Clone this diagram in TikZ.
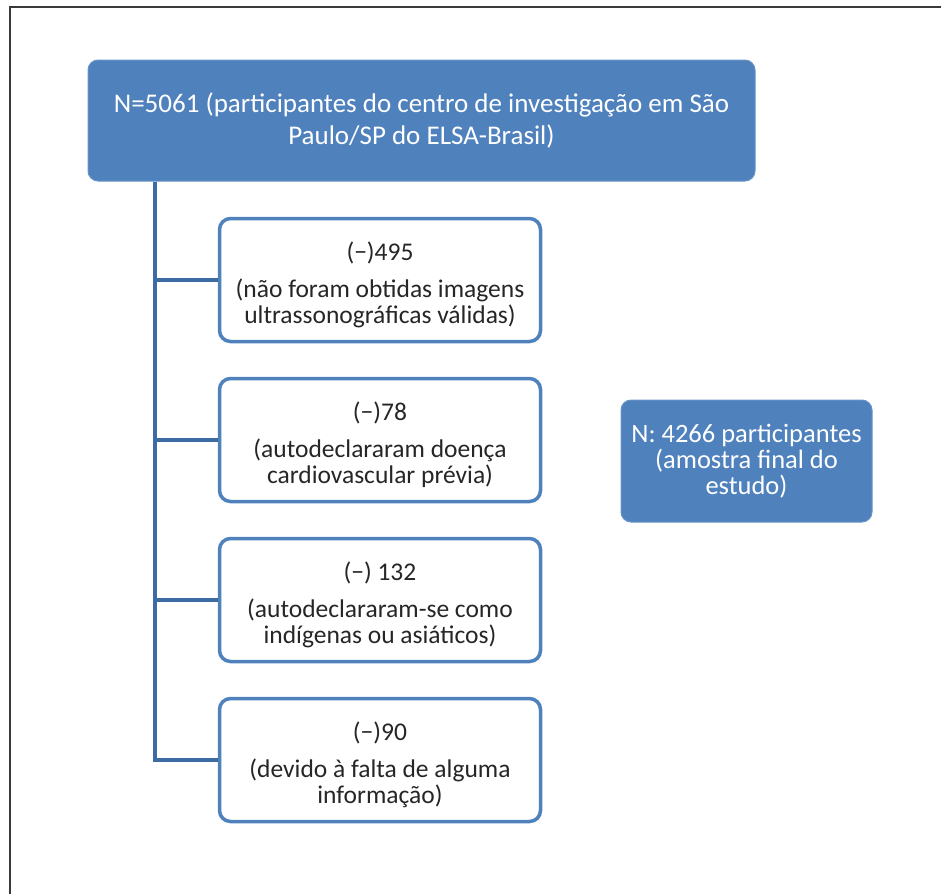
\documentclass[tikz,border=0pt]{standalone}
\usepackage{fontspec}
\setmainfont{Carlito}
\definecolor{boxblue}{HTML}{4F81BD}
\definecolor{lineblue}{HTML}{3D6BA3}
\definecolor{txt}{HTML}{262626}
\definecolor{framec}{HTML}{3A3A3A}
\newcommand{\toppad}{\rule{0pt}{28pt}}
\tikzset{
  bluebox/.style={draw=boxblue!85!white, line width=1pt, fill=boxblue, rounded corners=10pt, text=white, align=center, inner sep=0pt},
  whitebox/.style={draw=boxblue, line width=3.5pt, fill=white, rounded corners=11pt, text=txt, align=center, inner sep=0pt, minimum width=321pt, minimum height=123pt},
  conn/.style={draw=lineblue, line width=4pt},
  boxfont/.style={font=\fontsize{25.5}{26.5}\selectfont},
}
\begin{document}
\begin{tikzpicture}[x=1pt,y=-1pt]
\useasboundingbox (0,0) rectangle (941,894);
\draw[framec, line width=2pt] (10,894) -- (10,7) -- (941,7);
\node[bluebox, minimum width=667pt, minimum height=121pt, font=\fontsize{27}{32}\selectfont] (top) at (421.5,120.5)
  {N=5061 (participantes do centro de investigação em São\\Paulo/SP do ELSA-Brasil)};
\node[whitebox, boxfont] (b1) at (380,280)
  {\toppad(−)495\\[10.5pt](não foram obtidas imagens\\ultrassonográficas válidas)};
\node[whitebox, boxfont] (b2) at (380,440)
  {\toppad(−)78\\[10.5pt](autodeclararam doença\\cardiovascular prévia)};
\node[whitebox, boxfont] (b3) at (380,600)
  {\toppad(−) 132\\[10.5pt](autodeclararam-se como\\indígenas ou asiáticos)};
\node[whitebox, boxfont] (b4) at (380,760)
  {\toppad(−)90\\[10.5pt](devido à falta de alguma\\informação)};
\node[bluebox, minimum width=251pt, minimum height=122pt, font=\fontsize{26.5}{26}\selectfont] (fin) at (746.5,461)
  {N: 4266 participantes\\(amostra final do\\estudo)};
\coordinate (sp) at (155,0);
\draw[conn] (top.south -| sp) -- (b4.west -| sp) -- (b4.west);
\draw[conn] (b1.west -| sp) -- (b1.west);
\draw[conn] (b2.west -| sp) -- (b2.west);
\draw[conn] (b3.west -| sp) -- (b3.west);
\end{tikzpicture}
\end{document}
